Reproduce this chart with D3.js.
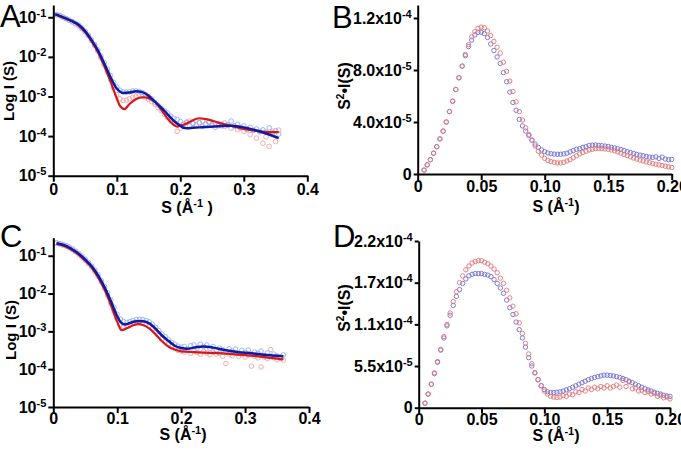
<!DOCTYPE html>
<html><head><meta charset="utf-8">
<script src="https://cdn.jsdelivr.net/npm/d3@7"></script>
<style>body{margin:0;background:#fff}svg{display:block}</style>
</head><body><svg id="chart" width="681" height="450"></svg>
<script>
// ================= DATA =================
// scattering vector grids (Å^-1)
const sLog = [0.005,0.01,0.015,0.02,0.025,0.03,0.035,0.04,0.045,0.05,0.055,0.06,0.065,0.07,0.075,0.08,0.085,0.09,0.095,0.1,0.105,0.11,0.115,0.12,0.125,0.13,0.135,0.14,0.145,0.15,0.155,0.16,0.165,0.17,0.175,0.18,0.185,0.19,0.195,0.2,0.205,0.21,0.215,0.22,0.225,0.23,0.235,0.24,0.245,0.25,0.255,0.26,0.265,0.27,0.275,0.28,0.285,0.29,0.295,0.3,0.305,0.31,0.315,0.32,0.325,0.33,0.335,0.34,0.345,0.35,0.355,0.36];
const sKratky = [0.005,0.0075,0.01,0.0125,0.015,0.0175,0.02,0.0225,0.025,0.0275,0.03,0.0325,0.035,0.0375,0.04,0.0425,0.045,0.0475,0.05,0.0525,0.055,0.0575,0.06,0.0625,0.065,0.0675,0.07,0.0725,0.075,0.0775,0.08,0.0825,0.085,0.0875,0.09,0.0925,0.095,0.0975,0.1,0.1025,0.105,0.1075,0.11,0.1125,0.115,0.1175,0.12,0.1225,0.125,0.1275,0.13,0.1325,0.135,0.1375,0.14,0.1425,0.145,0.1475,0.15,0.1525,0.155,0.1575,0.16,0.1625,0.165,0.1675,0.17,0.1725,0.175,0.1775,0.18,0.1825,0.185,0.1875,0.19,0.1925,0.195,0.1975,0.2];

// Panel A: log10 I(S), experimental points
const aBlueLogI = [-0.93,-0.95,-0.99,-1.03,-1.07,-1.11,-1.15,-1.20,-1.27,-1.35,
-1.45,-1.56,-1.69,-1.82,-1.98,-2.14,-2.31,-2.47,-2.64,-2.76,
-2.84,-2.88,-2.89,-2.88,-2.86,-2.86,-2.87,-2.90,-2.95,-3.00,
-3.06,-3.15,-3.22,-3.30,-3.36,-3.42,-3.50,-3.55,-3.58,-3.63,
-3.70,-3.66,-3.74,-3.68,-3.72,-3.66,-3.76,-3.70,-3.64,-3.73,
-3.78,-3.69,-3.74,-3.67,-3.72,-3.62,-3.75,-3.70,-3.80,-3.74,
-3.84,-3.78,-3.85,-3.82,-3.88,-3.84,-3.90,-3.79,-3.92,-3.86,
-3.95];
const aRedLogI = [-0.94,-0.96,-1.00,-1.04,-1.08,-1.12,-1.17,-1.22,-1.29,-1.37,
-1.47,-1.59,-1.72,-1.86,-2.03,-2.20,-2.38,-2.57,-2.78,-2.95,
-3.06,-3.10,-3.09,-3.06,-3.02,-3.00,-2.99,-3.00,-3.03,-3.07,
-3.13,-3.20,-3.28,-3.36,-3.45,-3.53,-3.62,-3.68,-3.88,-3.80,
-3.70,-3.64,-3.62,-3.68,-3.60,-3.66,-3.62,-3.70,-3.65,-3.72,
-3.68,-3.74,-3.70,-3.76,-3.72,-3.80,-3.74,-3.84,-3.78,-3.88,
-3.82,-3.96,-3.86,-4.05,-3.90,-4.18,-4.02,-4.26,-3.88,-4.14,
-3.85];
// Panel A: fitted curves
const aBlueFitS = [0.003,0.02,0.03,0.04,0.05,0.06,0.07,0.08,0.09,0.1,0.11,0.12,0.13,0.14,0.15,0.16,0.17,0.18,0.19,0.2,0.205,0.21,0.22,0.24,0.26,0.28,0.3,0.32,0.34,0.355];
const aBlueFitLogI = [-0.92,-1.03,-1.10,-1.19,-1.35,-1.57,-1.83,-2.16,-2.51,-2.80,-2.91,-2.90,-2.87,-2.89,-2.98,-3.13,-3.28,-3.45,-3.62,-3.74,-3.79,-3.80,-3.79,-3.77,-3.75,-3.74,-3.78,-3.86,-3.96,-4.05];
const aRedFitS = [0.003,0.02,0.03,0.04,0.05,0.06,0.07,0.08,0.09,0.1,0.105,0.112,0.12,0.13,0.14,0.15,0.16,0.17,0.18,0.19,0.195,0.2,0.21,0.22,0.23,0.24,0.25,0.26,0.28,0.3,0.32,0.34,0.355];
const aRedFitLogI = [-0.93,-1.04,-1.11,-1.21,-1.37,-1.60,-1.87,-2.22,-2.62,-3.05,-3.24,-3.32,-3.19,-3.07,-3.02,-3.04,-3.14,-3.33,-3.56,-3.72,-3.76,-3.74,-3.68,-3.60,-3.55,-3.57,-3.61,-3.66,-3.74,-3.82,-3.87,-3.90,-3.90];

// Panel C: log10 I(S), experimental points
const cBlueLogI = [-0.66,-0.68,-0.70,-0.73,-0.77,-0.82,-0.88,-0.94,-1.01,-1.09,
-1.18,-1.27,-1.38,-1.50,-1.65,-1.81,-1.98,-2.17,-2.36,-2.55,
-2.68,-2.74,-2.76,-2.74,-2.71,-2.69,-2.68,-2.69,-2.71,-2.75,
-2.81,-2.89,-2.98,-3.07,-3.14,-3.22,-3.29,-3.34,-3.39,-3.42,
-3.40,-3.46,-3.38,-3.36,-3.44,-3.34,-3.40,-3.36,-3.45,-3.40,
-3.50,-3.44,-3.48,-3.55,-3.46,-3.52,-3.47,-3.58,-3.50,-3.55,
-3.49,-3.60,-3.55,-3.58,-3.52,-3.64,-3.57,-3.66,-3.60,-3.65,
-3.70,-3.62];
const cRedLogI = [-0.67,-0.69,-0.72,-0.75,-0.79,-0.84,-0.90,-0.97,-1.04,-1.12,
-1.21,-1.30,-1.42,-1.55,-1.70,-1.87,-2.05,-2.26,-2.47,-2.66,
-2.82,-2.88,-2.86,-2.82,-2.78,-2.76,-2.75,-2.77,-2.81,-2.86,
-2.93,-3.02,-3.11,-3.20,-3.28,-3.35,-3.41,-3.46,-3.50,-3.52,
-3.55,-3.50,-3.58,-3.52,-3.56,-3.60,-3.53,-3.57,-3.62,-3.55,
-3.60,-3.58,-3.66,-3.85,-3.60,-3.64,-3.58,-3.66,-3.62,-3.68,
-3.63,-3.92,-3.66,-3.70,-3.94,-3.68,-3.72,-3.48,-3.70,-3.75,
-3.72,-3.76];
// Panel C: fitted curves
const cBlueFitS = [0.005,0.02,0.035,0.05,0.06,0.07,0.08,0.09,0.1,0.105,0.112,0.12,0.13,0.14,0.15,0.16,0.17,0.18,0.19,0.2,0.21,0.22,0.235,0.25,0.27,0.29,0.31,0.33,0.36];
const cBlueFitLogI = [-0.67,-0.74,-0.89,-1.10,-1.28,-1.52,-1.83,-2.2,-2.6,-2.75,-2.82,-2.78,-2.73,-2.73,-2.79,-2.93,-3.11,-3.25,-3.38,-3.44,-3.46,-3.43,-3.40,-3.43,-3.50,-3.55,-3.58,-3.62,-3.66];
const cRedFitS = [0.005,0.02,0.035,0.05,0.06,0.07,0.08,0.09,0.1,0.107,0.115,0.125,0.133,0.14,0.15,0.16,0.17,0.18,0.19,0.2,0.22,0.25,0.28,0.31,0.34,0.36];
const cRedFitLogI = [-0.68,-0.76,-0.91,-1.13,-1.31,-1.57,-1.89,-2.3,-2.75,-2.97,-2.92,-2.84,-2.81,-2.83,-2.92,-3.08,-3.26,-3.40,-3.48,-3.53,-3.55,-3.57,-3.60,-3.64,-3.70,-3.74];

// Panel B: S^2 * I(S), in units of 1e-5
const bBlue = [0.30,0.70,1.10,1.60,2.10,2.70,3.30,4.00,4.80,5.60,
6.50,7.40,8.30,9.10,9.80,10.30,10.70,10.90,10.90,10.80,
10.50,10.00,9.50,9.00,8.50,7.80,7.10,6.30,5.50,4.90,
4.20,3.70,3.30,2.95,2.60,2.30,2.05,1.85,1.72,1.62,
1.56,1.53,1.52,1.52,1.55,1.60,1.70,1.80,1.90,1.95,
2.05,2.10,2.20,2.22,2.23,2.20,2.18,2.15,2.12,2.05,
2.00,1.95,1.88,1.80,1.72,1.65,1.58,1.50,1.45,1.40,
1.35,1.30,1.28,1.32,1.20,1.30,1.15,1.10,1.12];
const bRed = [0.30,0.70,1.10,1.60,2.10,2.70,3.30,4.00,4.80,5.60,
6.50,7.40,8.30,9.20,9.95,10.55,10.95,11.20,11.30,11.25,
11.00,10.65,10.20,9.75,9.30,8.60,7.90,7.15,6.35,5.55,
4.80,4.15,3.55,3.05,2.60,2.15,1.75,1.45,1.20,1.05,
0.95,0.90,0.85,0.85,0.90,1.00,1.10,1.25,1.40,1.55,
1.65,1.75,1.85,1.90,1.95,1.97,1.95,1.93,1.90,1.85,
1.78,1.70,1.60,1.50,1.42,1.32,1.23,1.15,1.07,1.00,
0.93,0.87,0.80,0.75,0.70,0.66,0.60,0.55,0.50];

// Panel D: S^2 * I(S), in units of 1e-5
const dBlue = [0.60,1.80,3.10,4.50,6.00,7.60,9.20,10.80,12.20,13.50,
14.70,15.60,16.40,17.00,17.40,17.60,17.70,17.70,17.70,17.60,
17.50,17.30,16.90,16.40,15.80,15.10,14.20,13.20,12.30,11.30,
10.30,9.20,8.00,6.60,5.50,4.60,3.70,2.90,2.40,2.10,
2.00,2.00,2.05,2.10,2.20,2.35,2.50,2.70,2.90,3.10,
3.30,3.50,3.70,3.85,4.00,4.10,4.20,4.30,4.30,4.25,
4.20,4.10,4.00,3.85,3.70,3.50,3.30,3.10,2.90,2.70,
2.50,2.35,2.20,2.05,1.90,1.80,1.65,1.55,1.50];
const dRed = [0.60,1.80,3.10,4.60,6.10,7.70,9.40,11.00,12.50,14.00,
15.30,16.50,17.40,18.20,18.70,19.10,19.30,19.40,19.40,19.20,
19.00,18.70,18.30,17.80,17.10,16.40,15.50,14.50,13.40,12.40,
11.20,9.80,8.50,7.10,5.80,4.60,3.70,2.90,2.20,1.80,
1.50,1.40,1.35,1.40,1.60,1.50,1.80,1.70,2.10,2.00,
2.40,2.20,2.60,2.40,2.70,2.50,2.80,2.60,2.90,2.60,
2.80,3.00,2.70,3.60,2.80,3.40,2.50,2.60,2.20,2.30,
2.00,2.10,1.80,1.90,1.50,1.60,1.30,1.40,1.15];

// ticks
const logXTicks = [0, 0.1, 0.2, 0.3, 0.4];
const logXLabels = ["0", "0.1", "0.2", "0.3", "0.4"];
const logYTicks = [1e-1, 1e-2, 1e-3, 1e-4, 1e-5];
const logYMain = ["10", "10", "10", "10", "10"];
const logYSup = ["-1", "-2", "-3", "-4", "-5"];
const kXTicks = [0, 0.05, 0.1, 0.15, 0.2];
const kXLabels = ["0", "0.05", "0.10", "0.15", "0.20"];
const bYTicks = [0, 4, 8, 12];            // x 1e-5
const bYMain = ["0", "4.0x10", "8.0x10", "1.2x10"];
const bYSup = ["", "-5", "-5", "-4"];
const dYTicks = [0, 5.5, 11, 16.5, 22];   // x 1e-5
const dYMain = ["0", "5.5x10", "1.1x10", "1.7x10", "2.2x10"];
const dYSup = ["", "-5", "-4", "-4", "-4"];

// ================= DRAWING =================
const svg = d3.select("#chart");
const FONT = "'Liberation Sans', Arial, Helvetica, sans-serif";
const COL = {
  logBlueData: "#90b2f2", logRedData: "#f2a4a4",
  blueLine: "#1219a0", redLine: "#d5181c",
  kBlue: "#6f6fd8", kRed: "#e47474"
};

function styleAxis(gg, fs) {
  gg.attr("font-family", FONT).attr("font-weight", "bold").attr("font-size", fs);
  gg.select(".domain").attr("stroke", "#000").attr("stroke-width", 2);
  gg.selectAll(".tick line").attr("stroke", "#000").attr("stroke-width", 2);
  gg.selectAll(".tick text").attr("fill", "#000");
}
function supLabels(gg, mains, sups, supSize) {
  gg.selectAll(".tick text").each(function(d, i) {
    const t = d3.select(this);
    t.text(null);
    t.append("tspan").text(mains[i]);
    if (sups[i]) t.append("tspan").attr("dy", -6).attr("font-size", supSize).text(sups[i]);
  });
}
function xTitle(cx, cy, extra) {
  const t = svg.append("text").attr("x", cx).attr("y", cy).attr("text-anchor", "middle")
    .attr("font-family", FONT).attr("font-weight", "bold").attr("font-size", 16);
  t.append("tspan").text("S (Å");
  t.append("tspan").attr("dy", -6).attr("font-size", 11).text("-1");
  t.append("tspan").attr("dy", 6).text(extra + ")");
}
function yTitleLog(cx, cy) {
  svg.append("text").attr("transform", `translate(${cx},${cy}) rotate(-90)`)
    .attr("text-anchor", "middle").attr("font-family", FONT).attr("font-weight", "bold")
    .attr("font-size", 15).text("Log I (S)");
}
function yTitleK(cx, cy) {
  const t = svg.append("text").attr("transform", `translate(${cx},${cy}) rotate(-90)`)
    .attr("text-anchor", "middle").attr("font-family", FONT).attr("font-weight", "bold")
    .attr("font-size", 16);
  t.append("tspan").text("S");
  t.append("tspan").attr("dy", -6).attr("font-size", 10).text("2");
  t.append("tspan").attr("dy", 6).text("•I(S)");
}
function letter(ch, x, y) {
  svg.append("text").attr("x", x).attr("y", y).attr("font-family", "'Liberation Sans', Arial, sans-serif")
    .attr("font-size", 31).attr("fill", "#000").text(ch);
}

function logPanel(o) {
  const x = d3.scaleLinear().domain([0, 0.4]).range([o.left, o.right]);
  const y = d3.scaleLog().domain([1e-5, o.ymax]).range([o.bottom, o.top]);
  const g = svg.append("g");
  const pts = (s, v) => v.map((lv, i) => [s[i], Math.pow(10, lv)]);
  const line = d3.line().x(d => x(d[0])).y(d => y(d[1])).curve(d3.curveMonotoneX);

  g.append("g").selectAll("circle").data(pts(sLog, o.redData)).join("circle")
    .attr("cx", d => x(d[0])).attr("cy", d => y(d[1])).attr("r", 2.3)
    .attr("fill", "none").attr("stroke", COL.logRedData).attr("stroke-width", 0.9);
  g.append("g").selectAll("circle").data(pts(sLog, o.blueData)).join("circle")
    .attr("cx", d => x(d[0])).attr("cy", d => y(d[1])).attr("r", 2.3)
    .attr("fill", "none").attr("stroke", COL.logBlueData).attr("stroke-width", 0.9);
  g.append("path").datum(pts(o.redFitS, o.redFit)).attr("d", line)
    .attr("fill", "none").attr("stroke", COL.redLine).attr("stroke-width", 2.2);
  g.append("path").datum(pts(o.blueFitS, o.blueFit)).attr("d", line)
    .attr("fill", "none").attr("stroke", COL.blueLine).attr("stroke-width", 2.5);

  const ax = g.append("g").attr("transform", `translate(0,${o.bottom})`)
    .call(d3.axisBottom(x).tickValues(logXTicks).tickFormat((d, i) => logXLabels[i])
      .tickSize(6).tickSizeOuter(0).tickPadding(o.xPad));
  styleAxis(ax, 16);
  const ay = g.append("g").attr("transform", `translate(${o.left},0)`)
    .call(d3.axisLeft(y).tickValues(logYTicks).tickFormat("").tickSize(5).tickSizeOuter(0).tickPadding(2));
  styleAxis(ay, 16);
  supLabels(ay, logYMain, logYSup, 11);
}

function kratkyPanel(o) {
  const x = d3.scaleLinear().domain([0, 0.2]).range([o.left, o.right]);
  const y = d3.scaleLinear().domain([0, o.ymax]).range([o.bottom, o.top]);
  const g = svg.append("g");
  const pts = v => v.map((val, i) => [sKratky[i], val]);
  g.append("g").selectAll("circle").data(pts(o.blue)).join("circle")
    .attr("cx", d => x(d[0])).attr("cy", d => y(d[1])).attr("r", 2.2)
    .attr("fill", "none").attr("stroke", COL.kBlue).attr("stroke-width", 0.9);
  g.append("g").selectAll("circle").data(pts(o.red)).join("circle")
    .attr("cx", d => x(d[0])).attr("cy", d => y(d[1])).attr("r", 2.2)
    .attr("fill", "none").attr("stroke", COL.kRed).attr("stroke-width", 0.9);

  const ax = g.append("g").attr("transform", `translate(0,${o.bottom})`)
    .call(d3.axisBottom(x).tickValues(kXTicks).tickFormat((d, i) => kXLabels[i])
      .tickSize(6).tickSizeOuter(0).tickPadding(o.xPad));
  styleAxis(ax, 16);
  const ay = g.append("g").attr("transform", `translate(${o.left},0)`)
    .call(d3.axisLeft(y).tickValues(o.yTicks).tickFormat("").tickSize(4).tickSizeOuter(0).tickPadding(2));
  styleAxis(ay, 16);
  supLabels(ay, o.yMain, o.ySup, 11);
}

// Panel A
logPanel({ left: 53.3, right: 307.3, top: 5, bottom: 175.7, ymax: 0.204, xPad: 2,
  blueData: aBlueLogI, redData: aRedLogI,
  blueFitS: aBlueFitS, blueFit: aBlueFitLogI, redFitS: aRedFitS, redFit: aRedFitLogI });
// Panel C
logPanel({ left: 53.3, right: 309, top: 237.7, bottom: 407, ymax: 0.3, xPad: 0,
  blueData: cBlueLogI, redData: cRedLogI,
  blueFitS: cBlueFitS, blueFit: cBlueFitLogI, redFitS: cRedFitS, redFit: cRedFitLogI });
// Panel B
kratkyPanel({ left: 417.7, right: 671.7, top: 5, bottom: 174, ymax: 13, xPad: 1,
  blue: bBlue, red: bRed, yTicks: bYTicks, yMain: bYMain, ySup: bYSup });
// Panel D
kratkyPanel({ left: 418.7, right: 670, top: 241, bottom: 407.7, ymax: 22, xPad: 0,
  blue: dBlue, red: dRed, yTicks: dYTicks, yMain: dYMain, ySup: dYSup });

// titles
xTitle(187, 213, "  ");
xTitle(556, 212, "");
xTitle(183, 440, "");
xTitle(556, 441, "");
yTitleLog(14, 91);
yTitleLog(16, 330);
yTitleK(350, 86);
yTitleK(350, 308);
letter("A", 0, 27);
letter("B", 332, 28);
letter("C", 0, 247);
letter("D", 333, 247);
</script>
</body></html>
